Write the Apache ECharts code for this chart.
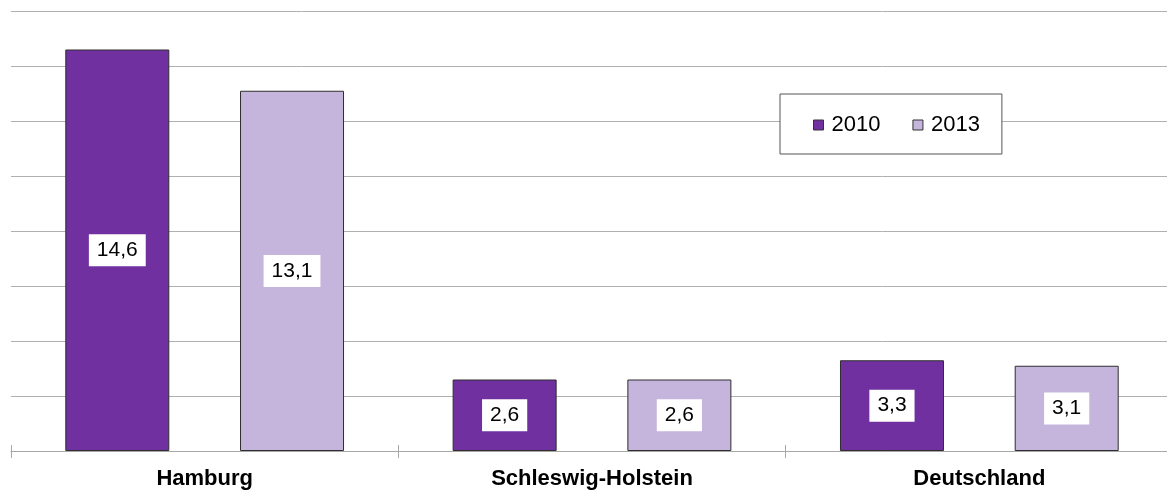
<!DOCTYPE html>
<html>
<head>
<meta charset="utf-8">
<script src="https://cdn.jsdelivr.net/npm/echarts@6/dist/echarts.min.js"></script>
<style>
  html, body { margin: 0; padding: 0; background: #ffffff; overflow: hidden; }
  /* Diagramm ragt rechts etwas über den sichtbaren Bereich hinaus */
  #main-chart { width: 1174px; height: 492px; }
</style>
</head>
<body>
<div id="main-chart"></div>
<script>
const categories = ['Hamburg', 'Schleswig-Holstein', 'Deutschland']
const seriesNames = ['2010', '2013']
const values2010 = [14.6, 2.6, 3.3]
const values2013 = [13.1, 2.6, 3.1]

const font = 'Arial, "Liberation Sans", sans-serif'
const myChart = echarts.init(document.getElementById('main-chart'))

// Wert mit Komma als Dezimaltrenner
const fmt = p => String(p.value).replace('.', ',')

const dataLabel = {
  show: true,
  position: 'inside',
  formatter: fmt,
  color: '#000000',
  fontSize: 21,
  fontFamily: font,
  backgroundColor: '#ffffff',
  padding: [6, 8, 5, 8]
}

const option = {
  animation: false,
  color: ['#7030a0', '#c5b5dc'],
  legend: {
    data: seriesNames,
    left: 780,
    top: 94,
    padding: [20, 22, 18, 33],
    itemWidth: 10,
    itemHeight: 10,
    itemGap: 32,
    borderColor: '#555555',
    borderWidth: 1,
    backgroundColor: '#ffffff',
    icon: 'rect',
    itemStyle: { borderColor: '#333333', borderWidth: 1 },
    textStyle: { fontSize: 22, color: '#000000', fontFamily: font, padding: [0, 0, 0, 3] }
  },
  grid: { left: 11, top: 11, bottom: 41, right: 1 },
  xAxis: [
    {
      type: 'category',
      data: categories,
      axisLine: { lineStyle: { color: '#a8a8a8', width: 1 } },
      axisTick: { show: true, length: 7, lineStyle: { color: '#a8a8a8' } },
      axisLabel: { fontSize: 22, fontWeight: 'bold', color: '#000000', fontFamily: font, margin: 17 }
    },
    {
      type: 'category',
      data: categories,
      position: 'bottom',
      axisLine: { show: false },
      axisTick: { show: true, inside: true, length: 6, lineStyle: { color: '#a8a8a8' } },
      axisLabel: { show: false }
    }
  ],
  yAxis: {
    type: 'value',
    min: 0,
    max: 16,
    interval: 2,
    axisLine: { show: false },
    axisTick: { show: false },
    axisLabel: { show: false },
    splitLine: { lineStyle: { color: '#b0b0b0', width: 1 } }
  },
  series: [
    {
      name: seriesNames[0],
      type: 'bar',
      data: values2010,
      barWidth: 104,
      barGap: '68%',
      itemStyle: { borderColor: '#2e2e2e', borderWidth: 1 },
      label: dataLabel
    },
    {
      name: seriesNames[1],
      type: 'bar',
      data: values2013,
      barWidth: 104,
      barGap: '68%',
      itemStyle: { borderColor: '#2e2e2e', borderWidth: 1 },
      label: dataLabel
    }
  ]
}

myChart.setOption(option)
</script>
</body>
</html>
